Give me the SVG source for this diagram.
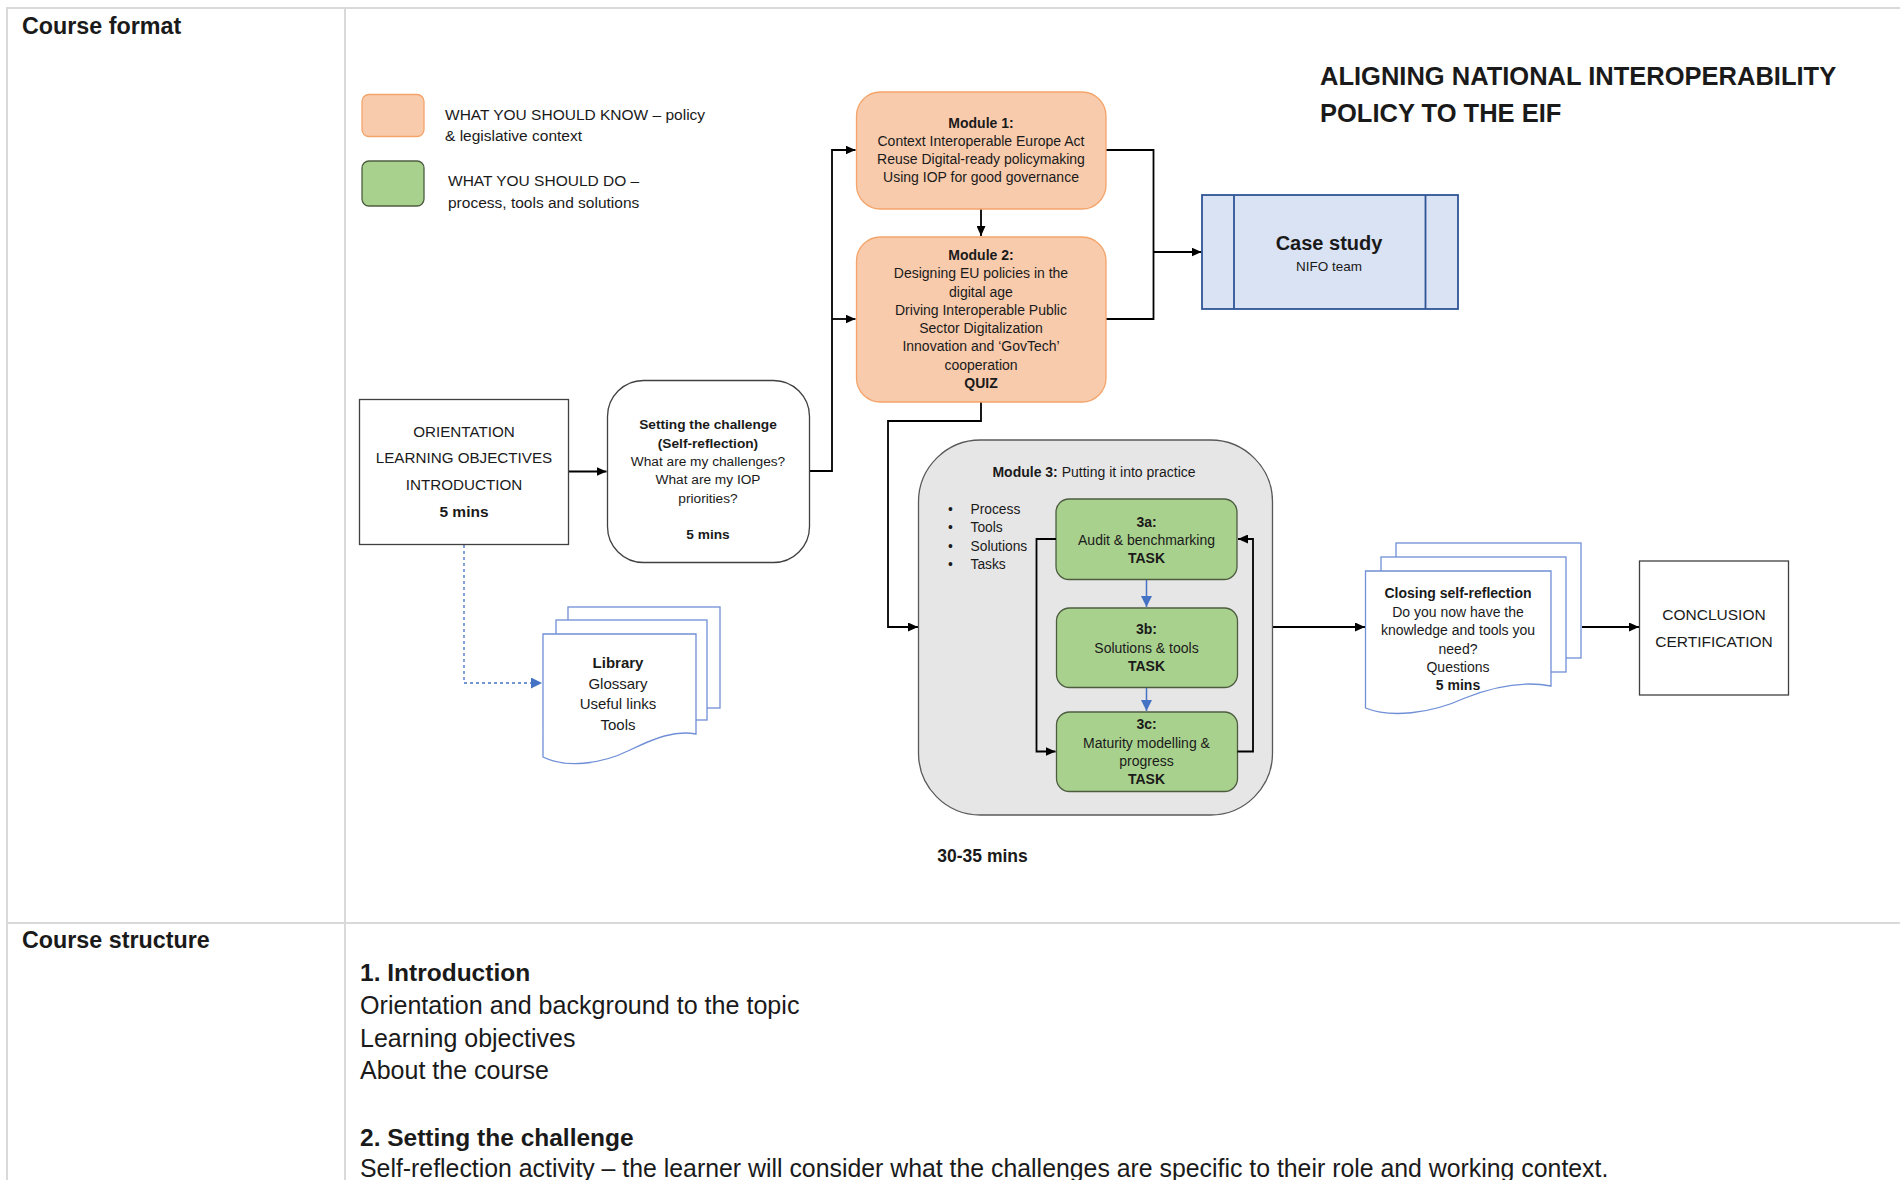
<svg xmlns="http://www.w3.org/2000/svg" width="1900" height="1180" viewBox="0 0 1900 1180">
<defs>
<style>
text{font-family:"Liberation Sans",Arial,sans-serif;fill:#1a1a1a}
.b{font-weight:bold}
.c{text-anchor:middle}
.grid{stroke:#d9d9d9;stroke-width:2;fill:none}
.orange{fill:#f8cbad;stroke:#f4a46a;stroke-width:1.3}
.green{fill:#a9d18e;stroke:#4d5d40;stroke-width:1.3}
.doc{fill:#fff;stroke:#6f8fd6;stroke-width:1.3}
.plain{fill:#fff;stroke:#404040;stroke-width:1.3}
.conn{fill:none;stroke:#000;stroke-width:1.8}
.blue{fill:none;stroke:#4472c4;stroke-width:1.5}
.dash{fill:none;stroke:#4472c4;stroke-width:1.3;stroke-dasharray:3 3}
.m{font-size:14px}
</style>
<marker id="ah" markerUnits="userSpaceOnUse" markerWidth="11" markerHeight="9" refX="10" refY="4.5" orient="auto"><path d="M0,0 L10,4.5 L0,9 z" fill="#000"/></marker>
<marker id="ahb" markerUnits="userSpaceOnUse" markerWidth="12" markerHeight="11" refX="11" refY="5.5" orient="auto"><path d="M0,0 L11,5.5 L0,11 z" fill="#4472c4"/></marker>
</defs>
<rect width="1900" height="1180" fill="#fff"/>

<g id="table">
<path class="grid" d="M6,8 H1900 M7,8 V1180 M345,8 V1180 M6,923 H1900"/>
<text class="b" x="22" y="34" font-size="23.3">Course format</text>
<text class="b" x="22" y="948" font-size="23.3">Course structure</text>
</g>

<g id="title">
<text class="b" x="1320" y="85" font-size="25.5">ALIGNING NATIONAL INTEROPERABILITY</text>
<text class="b" x="1320" y="122" font-size="25.5">POLICY TO THE EIF</text>
</g>

<g id="legend">
<rect class="orange" x="362" y="94.5" width="62" height="42" rx="7"/>
<rect class="green" x="362" y="161" width="62" height="45" rx="7"/>
<text x="445" y="119.5" font-size="15.5">WHAT YOU SHOULD KNOW – policy</text>
<text x="445" y="141" font-size="15.5">&amp; legislative context</text>
<text x="448" y="186" font-size="15.5">WHAT YOU SHOULD DO –</text>
<text x="448" y="207.5" font-size="15.5">process, tools and solutions</text>
</g>

<g id="connectors">
<path class="conn" d="M568.5,471.5 H606.5" marker-end="url(#ah)"/>
<path class="conn" d="M809,471 H832 V150 H855.5" marker-end="url(#ah)"/>
<path class="conn" d="M832,319 H855.5" marker-end="url(#ah)"/>
<path class="conn" d="M981,209 V236" marker-end="url(#ah)"/>
<path class="conn" d="M1106,150 H1153.5 V319 H1106"/>
<path class="conn" d="M1153.5,252 H1201.5" marker-end="url(#ah)"/>
<path class="conn" d="M981,402 V421 H888 V627 H918" marker-end="url(#ah)"/>
<path class="conn" d="M1272,627 H1365" marker-end="url(#ah)"/>
<path class="conn" d="M1582,627 H1639" marker-end="url(#ah)"/>
<path class="dash" d="M464,545 V683 H542" marker-end="url(#ahb)"/>
</g>

<g id="orientation">
<rect class="plain" x="359.5" y="399.5" width="209" height="145"/>
<text class="c" x="464" y="436.5" font-size="15.2">ORIENTATION</text>
<text class="c" x="464" y="463" font-size="15.2">LEARNING OBJECTIVES</text>
<text class="c" x="464" y="490" font-size="15.2">INTRODUCTION</text>
<text class="c b" x="464" y="517" font-size="15.5">5 mins</text>
</g>

<g id="setting">
<rect class="plain" x="607.5" y="380.5" width="202" height="182" rx="36"/>
<text class="c b" x="708" y="429" font-size="13.7">Setting the challenge</text>
<text class="c b" x="708" y="447.5" font-size="13.7">(Self-reflection)</text>
<text class="c" x="708" y="466" font-size="13.7">What are my challenges?</text>
<text class="c" x="708" y="484" font-size="13.7">What are my IOP</text>
<text class="c" x="708" y="502.5" font-size="13.7">priorities?</text>
<text class="c b" x="708" y="539" font-size="13.7">5 mins</text>
</g>

<g id="library">
<rect class="doc" x="568" y="607" width="152" height="101"/>
<rect class="doc" x="556" y="620" width="151" height="100"/>
<path class="doc" d="M543,634 H696 V734 C675,730 655,738 630,750 C600,765 565,768 543,757 Z"/>
<text class="c b" x="618" y="668" font-size="15">Library</text>
<text class="c" x="618" y="689" font-size="15">Glossary</text>
<text class="c" x="618" y="709" font-size="15">Useful links</text>
<text class="c" x="618" y="730" font-size="15">Tools</text>
</g>

<g id="module1">
<rect class="orange" x="856.5" y="92" width="249.5" height="117" rx="24"/>
<text class="c m b" x="981" y="127.5">Module 1:</text>
<text class="c m" x="981" y="145.5">Context  Interoperable Europe Act</text>
<text class="c m" x="981" y="164">Reuse Digital-ready policymaking</text>
<text class="c m" x="981" y="182">Using IOP for good governance</text>
</g>

<g id="module2">
<rect class="orange" x="856.5" y="237" width="249.5" height="165" rx="24"/>
<text class="c m b" x="981" y="260">Module 2:</text>
<text class="c m" x="981" y="278">Designing EU policies in the</text>
<text class="c m" x="981" y="296.5">digital age</text>
<text class="c m" x="981" y="314.5">Driving Interoperable Public</text>
<text class="c m" x="981" y="333">Sector Digitalization</text>
<text class="c m" x="981" y="351">Innovation and ‘GovTech’</text>
<text class="c m" x="981" y="369.5">cooperation</text>
<text class="c m b" x="981" y="388">QUIZ</text>
</g>

<g id="casestudy">
<rect x="1202" y="195" width="256" height="114" fill="#dae3f3" stroke="#2f5597" stroke-width="1.8"/>
<path d="M1234,195 V309 M1425.5,195 V309" stroke="#2f5597" stroke-width="1.8"/>
<text class="c b" x="1329" y="250" font-size="20">Case study</text>
<text class="c" x="1329" y="271" font-size="13.5">NIFO team</text>
</g>

<g id="module3">
<rect x="918.5" y="440" width="354" height="375" rx="62" fill="#e7e6e6" stroke="#595959" stroke-width="1.3"/>
<text class="c" x="1094" y="477" font-size="14"><tspan class="b">Module 3:</tspan> Putting it into practice</text>
<g font-size="13.8">
<text x="948" y="514">•</text><text x="970.5" y="514">Process</text>
<text x="948" y="532">•</text><text x="970.5" y="532">Tools</text>
<text x="948" y="550.5">•</text><text x="970.5" y="550.5">Solutions</text>
<text x="948" y="568.5">•</text><text x="970.5" y="568.5">Tasks</text>
</g>
</g>

<g id="task3a">
<rect class="green" x="1056" y="499" width="181" height="80.5" rx="13"/>
<text class="c b" x="1146.5" y="526.5" font-size="14">3a:</text>
<text class="c" x="1146.5" y="544.5" font-size="14">Audit &amp; benchmarking</text>
<text class="c b" x="1146.5" y="563" font-size="14">TASK</text>
</g>
<g id="task3b">
<rect class="green" x="1056.5" y="608" width="181" height="79.5" rx="13"/>
<text class="c b" x="1146.5" y="634" font-size="14">3b:</text>
<text class="c" x="1146.5" y="652.5" font-size="14">Solutions &amp; tools</text>
<text class="c b" x="1146.5" y="671" font-size="14">TASK</text>
</g>
<g id="task3c">
<rect class="green" x="1056.5" y="712" width="181" height="79.5" rx="13"/>
<text class="c b" x="1146.5" y="729" font-size="14">3c:</text>
<text class="c" x="1146.5" y="747.5" font-size="14">Maturity modelling &amp;</text>
<text class="c" x="1146.5" y="765.5" font-size="14">progress</text>
<text class="c b" x="1146.5" y="783.5" font-size="14">TASK</text>
</g>

<g id="inner-connectors">
<path class="blue" d="M1146.5,580 V607" marker-end="url(#ahb)"/>
<path class="blue" d="M1146.5,688 V711" marker-end="url(#ahb)"/>
<path class="conn" d="M1056,539 H1036.5 V751.5 H1055.5" marker-end="url(#ah)"/>
<path class="conn" d="M1237.5,751.5 H1253 V539 H1238" marker-end="url(#ah)"/>
</g>

<g id="closing">
<rect class="doc" x="1396" y="543" width="185" height="115"/>
<rect class="doc" x="1381" y="557" width="185" height="115"/>
<path class="doc" d="M1365.5,571 H1551 V686 C1525,681 1495,686 1465,698 C1430,714 1390,718 1365.5,708 Z"/>
<text class="c b" x="1458" y="598" font-size="14">Closing self-reflection</text>
<text class="c" x="1458" y="616.5" font-size="14">Do you now have the</text>
<text class="c" x="1458" y="635" font-size="14">knowledge and tools you</text>
<text class="c" x="1458" y="653.5" font-size="14">need?</text>
<text class="c" x="1458" y="672" font-size="14">Questions</text>
<text class="c b" x="1458" y="690" font-size="14">5 mins</text>
</g>

<g id="conclusion">
<rect class="plain" x="1639.5" y="561" width="149" height="134"/>
<text class="c" x="1714" y="619.5" font-size="15.5">CONCLUSION</text>
<text class="c" x="1714" y="646.5" font-size="15.5">CERTIFICATION</text>
</g>

<g id="duration">
<text class="c b" x="982.5" y="861.5" font-size="17.5">30-35 mins</text>
</g>

<g id="structure" font-size="25">
<text class="b" x="360" y="981" font-size="24.5">1. Introduction</text>
<text x="360" y="1014" font-size="25.1">Orientation and background to the topic</text>
<text x="360" y="1047">Learning objectives</text>
<text x="360" y="1079">About the course</text>
<text class="b" x="360" y="1146" font-size="24.5">2. Setting the challenge</text>
<text x="360" y="1177" font-size="24.85">Self-reflection activity – the learner will consider what the challenges are specific to their role and working context.</text>
</g>
</svg>
